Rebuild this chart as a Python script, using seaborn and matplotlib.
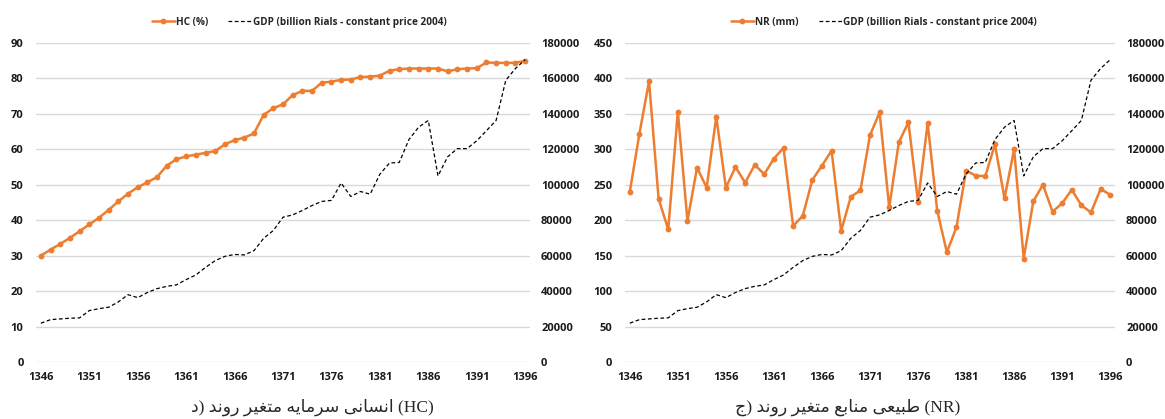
import itertools
import matplotlib
matplotlib.use('Agg')
import matplotlib.pyplot as plt
import seaborn as sns

# data
years = list(range(1346, 1397))
hc = [30.0, 31.7, 33.3, 35.0, 36.9, 38.8, 40.7, 42.9, 45.3, 47.5,
      49.3, 50.7, 52.2, 55.4, 57.2, 58.0, 58.5, 59.0, 59.5, 61.4,
      62.6, 63.3, 64.5, 69.7, 71.6, 72.7, 75.3, 76.5, 76.5, 78.8,
      79.1, 79.6, 79.7, 80.4, 80.5, 80.8, 82.2, 82.6, 82.8, 82.8,
      82.8, 82.8, 82.0, 82.6, 82.8, 82.9, 84.5, 84.4, 84.4, 84.4, 85.0]
nr = [240, 322, 396, 230, 187, 353, 199, 274, 246, 346,
      246, 275, 253, 278, 265, 287, 302, 192, 206, 257,
      277, 298, 185, 233, 242, 320, 352, 218, 310, 338,
      226, 337, 213, 155, 190, 270, 263, 262, 307, 231,
      300, 146, 227, 250, 212, 224, 243, 221, 211, 244, 236]
gdp = [21900, 23900, 24300, 24700, 24900, 29000, 30100, 30900, 33900, 38000,
       36300, 39200, 41400, 42700, 43500, 46500, 49100, 53400, 57200, 59600,
       60700, 60400, 62800, 69800, 74200, 81700, 83000, 85500, 88300, 90600,
       91200, 101000, 93400, 96200, 94700, 106000, 112300, 112600, 125500, 132500,
       136300, 105000, 115800, 120400, 120400, 124800, 130500, 136300, 159000, 165600, 170600]
year_ticks = list(range(1346, 1397, 5))
gdp_label = 'GDP (billion Rials - constant price 2004)'
caption_hc = 'د) روند متغیر سرمایه انسانی (HC)'
caption_nr = 'ج) روند متغیر منابع طبیعی (NR)'

ORANGE = '#ED7D31'
GRID = '#D9D9D9'

# contextual forms (isolated, final, initial, medial)
FORMS = {
    'ا': ('\uFE8D', '\uFE8E'), 'د': ('\uFEA9', '\uFEAA'),
    'ر': ('\uFEAD', '\uFEAE'), 'و': ('\uFEED', '\uFEEE'),
    'ب': ('\uFE8F', '\uFE90', '\uFE91', '\uFE92'),
    'ت': ('\uFE95', '\uFE96', '\uFE97', '\uFE98'),
    'ج': ('\uFE9D', '\uFE9E', '\uFE9F', '\uFEA0'),
    'س': ('\uFEB1', '\uFEB2', '\uFEB3', '\uFEB4'),
    'ط': ('\uFEC1', '\uFEC2', '\uFEC3', '\uFEC4'),
    'ع': ('\uFEC9', '\uFECA', '\uFECB', '\uFECC'),
    'غ': ('\uFECD', '\uFECE', '\uFECF', '\uFED0'),
    'م': ('\uFEE1', '\uFEE2', '\uFEE3', '\uFEE4'),
    'ن': ('\uFEE5', '\uFEE6', '\uFEE7', '\uFEE8'),
    'ه': ('\uFEE9', '\uFEEA', '\uFEEB', '\uFEEC'),
    'ی': ('\uFEEF', '\uFEF0', '\uFEF3', '\uFEF4'),
    'ي': ('\uFEEF', '\uFEF0', '\uFEF3', '\uFEF4'),
}


def shape(text):
    # shape each word and lay the words out left to right, as in the reference
    tokens = []
    for tok in text.split(' '):
        out = []
        for i, c in enumerate(tok):
            if c not in FORMS:
                out.append((False, c))
                continue
            f = FORMS[c]
            prev = tok[i - 1] if i > 0 else None
            nxt = tok[i + 1] if i + 1 < len(tok) else None
            jp = prev in FORMS and len(FORMS[prev]) == 4
            jn = len(f) == 4 and nxt in FORMS
            if jp and jn:
                g = f[3]
            elif jp:
                g = f[1]
            elif jn:
                g = f[2]
            else:
                g = f[0]
            out.append((True, g))
        s = ''
        for arabic, grp in itertools.groupby(out, key=lambda t: t[0]):
            chars = [g for _, g in grp]
            s += ''.join(reversed(chars)) if arabic else ''.join(chars)
        tokens.append(s)
    return ' '.join(tokens)


sns.set_style('white')
plt.rcParams['font.family'] = ['Open Sans', 'DejaVu Sans']

fig = plt.figure(figsize=(11.65, 4.19), dpi=100)
W, H = 1165, 419
bottom = 1 - 362 / H
height = (362 - 43) / H


def panel(x0, x1, values, name, ymax, ystep, caption, cap_x, leg_x):
    ax = fig.add_axes([x0 / W, bottom, (x1 - x0) / W, height])
    ax2 = ax.twinx()
    sns.lineplot(x=years, y=values, ax=ax, color=ORANGE, marker='o', markersize=4.2,
                 markeredgewidth=0, linewidth=1.8, legend=False)
    sns.lineplot(x=years, y=gdp, ax=ax2, color='black', linestyle=(0, (3, 2)),
                 linewidth=0.9, legend=False)
    ax.set_xlim(1345.5, 1396.5)
    ax.set_ylim(0, ymax)
    ax.set_yticks(range(0, ymax + 1, ystep))
    ax2.set_ylim(0, 180000)
    ax2.set_yticks(range(0, 180001, 20000))
    ax.set_xticks(year_ticks)
    ax.grid(axis='y', color=GRID, linewidth=1)
    ax.set_axisbelow(True)
    for a in (ax, ax2):
        for sp in a.spines.values():
            sp.set_visible(False)
        a.set_xlabel('')
        a.set_ylabel('')
    ax.tick_params(axis='both', length=0, labelsize=8, colors='#1a1a1a')
    ax.tick_params(axis='x', pad=7)
    ax.tick_params(axis='y', pad=9)
    ax2.tick_params(axis='y', length=0, labelsize=8, colors='#1a1a1a', pad=8)
    for lab in ax.get_xticklabels() + ax.get_yticklabels() + ax2.get_yticklabels():
        lab.set_fontweight('bold')
    fig.legend([ax.lines[0], ax2.lines[0]], [name, gdp_label],
               loc='center', bbox_to_anchor=(leg_x / W, 1 - 22 / H), ncol=2,
               frameon=False, prop={'size': 7.2, 'weight': 'bold'},
               handlelength=2.3, handletextpad=0.15, columnspacing=2.0)
    fig.text(cap_x / W, 1 - 407 / H, shape(caption), ha='center', va='center',
             fontsize=12.5, family=['Liberation Serif', 'DejaVu Sans'])


panel(36, 530, hc, 'HC (%)', 90, 10, caption_hc, 312, 299)
panel(625, 1115, nr, 'NR (mm)', 450, 50, caption_nr, 848, 884)

fig.savefig('out.png', dpi=100)
